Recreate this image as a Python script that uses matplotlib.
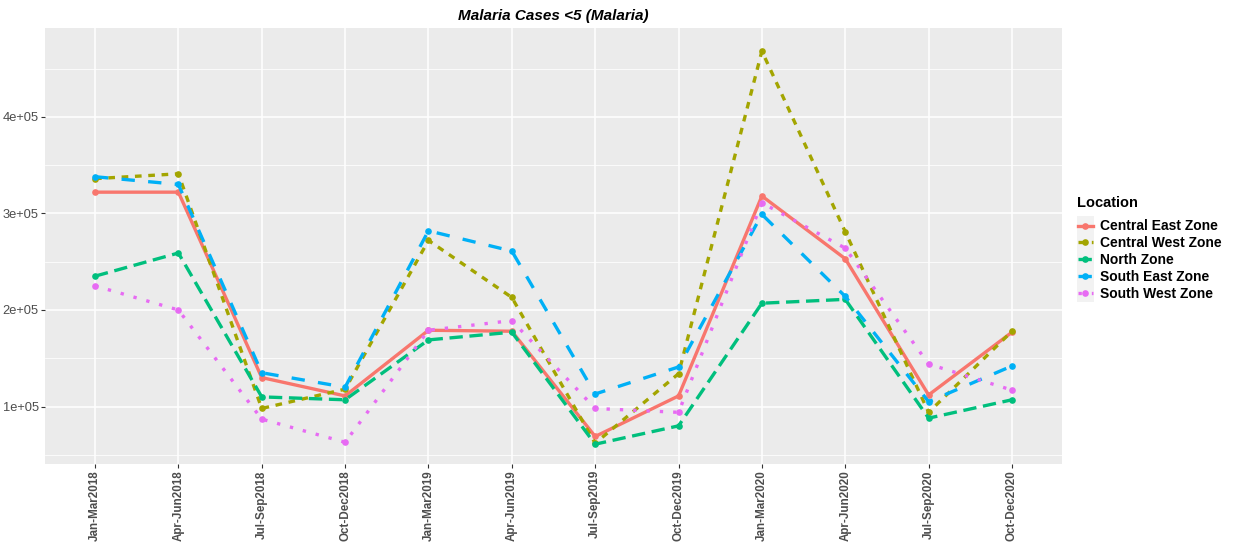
import matplotlib
matplotlib.use("Agg")
import matplotlib.pyplot as plt
from matplotlib.lines import Line2D
from matplotlib.patches import Rectangle
from matplotlib.ticker import FixedLocator, FuncFormatter

quarters = ["Jan-Mar2018", "Apr-Jun2018", "Jul-Sep2018", "Oct-Dec2018",
            "Jan-Mar2019", "Apr-Jun2019", "Jul-Sep2019", "Oct-Dec2019",
            "Jan-Mar2020", "Apr-Jun2020", "Jul-Sep2020", "Oct-Dec2020"]

central_east = [322000, 322000, 130000, 111000, 179000, 178000, 69000, 111000, 318000, 253000, 112000, 177000]
central_west = [336000, 341000, 98000, 118000, 272000, 213000, 62000, 134000, 468000, 281000, 94000, 178000]
north_zone = [235000, 259000, 110000, 107000, 169000, 177000, 61000, 80000, 207000, 211000, 88000, 107000]
south_east = [338000, 330000, 135000, 120000, 282000, 261000, 113000, 141000, 299000, 214000, 105000, 142000]
south_west = [225000, 200000, 87000, 63000, 179000, 189000, 98000, 94000, 311000, 264000, 144000, 117000]

locations = ["Central East Zone", "Central West Zone", "North Zone", "South East Zone", "South West Zone"]
series = [central_east, central_west, north_zone, south_east, south_west]
colors = ["#F8766D", "#A3A500", "#00BF7D", "#00B0F6", "#E76BF3"]
dashes = [None, (2, 2), (4, 2), (4, 4), (1, 3)]

plt.rcParams['font.family'] = ['Liberation Sans', 'DejaVu Sans']

W, H = 1234, 544
fig = plt.figure(figsize=(W / 100, H / 100), dpi=100)
ax = fig.add_axes([45 / W, 1 - 464 / H, (1062 - 45) / W, (464 - 28) / H])
ax.set_facecolor("#EBEBEB")
for s in ax.spines.values():
    s.set_visible(False)

x = list(range(len(quarters)))
lw = 2.4
for vals, col, d, name in zip(series, colors, dashes, locations):
    line, = ax.plot(x, vals, color=col, lw=lw, marker='o', markersize=4.8,
                    markeredgewidth=0, label=name, solid_capstyle='butt',
                    dash_capstyle='butt', zorder=3)
    if d is not None:
        line.set_dashes(d)

ax.set_xlim(-0.6, 11.6)
ax.set_ylim(40500, 492000)
ax.set_xticks(x)
ax.set_xticklabels(quarters, rotation=90, fontsize=8.4, fontweight='bold', color="#4D4D4D")
ax.yaxis.set_major_locator(FixedLocator([100000, 200000, 300000, 400000]))
ax.yaxis.set_minor_locator(FixedLocator([50000, 150000, 250000, 350000, 450000]))
ax.yaxis.set_major_formatter(FuncFormatter(lambda v, p: "%de+05" % int(round(v / 100000))))
for lab in ax.get_yticklabels():
    lab.set_fontsize(9.3)
    lab.set_color("#4D4D4D")
ax.tick_params(axis='both', which='major', length=3.0, width=0.8, color="#333333", pad=1.5)
ax.tick_params(axis='y', which='minor', length=0)
ax.grid(True, which='major', color='white', lw=1.1, zorder=0)
ax.grid(True, which='minor', axis='y', color='white', lw=0.55, zorder=0)
ax.set_axisbelow(True)

ax.set_title("Malaria Cases <5 (Malaria)", fontsize=11, fontweight='bold', style='italic', pad=6)

# legend
fig.text(1077 / W, 1 - 203 / H, "Location", fontsize=10.5, fontweight='bold', va='center', ha='left')
handles = []
for col, d, name in zip(colors, dashes, locations):
    h = Line2D([0], [0], color=col, lw=lw, marker='o', markersize=4.8, markeredgewidth=0)
    if d is not None:
        h.set_dashes(d)
    handles.append(h)
fig.add_artist(Rectangle((1077 / W, 1 - 302 / H), 17 / W, 86 / H, transform=fig.transFigure,
                         facecolor="#F2F2F2", edgecolor='none', zorder=0))
leg = fig.legend(handles, locations, loc='upper left', bbox_to_anchor=(1065 / W, 1 - 207 / H),
                 frameon=False, handlelength=1.1, handletextpad=0.55,
                 labelspacing=0.2, prop={'weight': 'bold', 'size': 10})

fig.savefig("out.png", dpi=100, facecolor='white')
